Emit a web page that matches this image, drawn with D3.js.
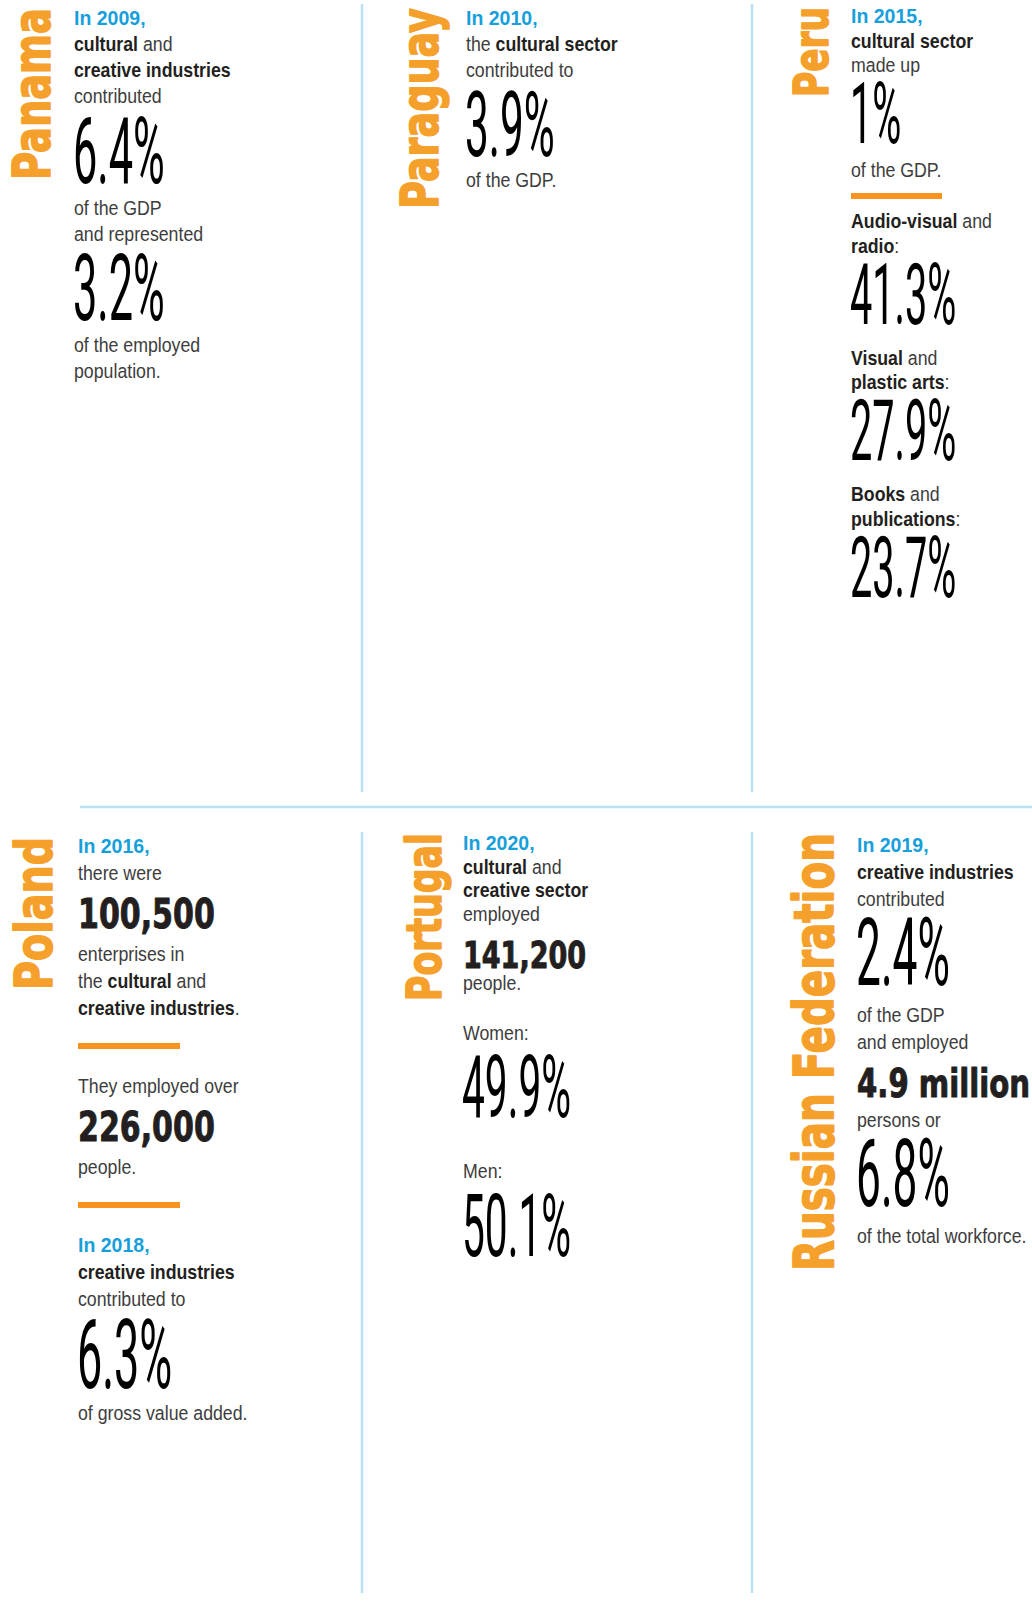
<!DOCTYPE html>
<html>
<head>
<meta charset="utf-8">
<script src="https://cdn.jsdelivr.net/npm/d3@7"></script>
<style>
html, body { margin: 0; padding: 0; background: #fff; }
svg { display: block; }
</style>
</head>
<body>
<script>
// Cultural and creative industries: six country fact panels

const countries = ["Panama", "Paraguay", "Peru", "Poland", "Portugal", "Russian Federation"];

// Panel content. k: y = year line, t = text line (**bold**), p = big percentage,
// n = heavy number, r = orange rule, g = extra gap
const panamaText = [
	{k: "y", t: "In 2009,"},
	{k: "t", t: "**cultural** and"},
	{k: "t", t: "**creative industries**"},
	{k: "t", t: "contributed"},
	{k: "p", t: "6.4%"},
	{k: "t", t: "of the GDP"},
	{k: "t", t: "and represented"},
	{k: "p", t: "3.2%"},
	{k: "t", t: "of the employed"},
	{k: "t", t: "population."}
];

const paraguayText = [
	{k: "y", t: "In 2010,"},
	{k: "t", t: "the **cultural sector**"},
	{k: "t", t: "contributed to"},
	{k: "p", t: "3.9%"},
	{k: "t", t: "of the GDP."}
];

const peruText = [
	{k: "y", t: "In 2015,"},
	{k: "t", t: "**cultural sector**"},
	{k: "t", t: "made up"},
	{k: "p", t: "1%"},
	{k: "t", t: "of the GDP."},
	{k: "r"},
	{k: "t", t: "**Audio-visual** and"},
	{k: "t", t: "**radio**:"},
	{k: "p", t: "41.3%"},
	{k: "g"},
	{k: "t", t: "**Visual** and"},
	{k: "t", t: "**plastic arts**:"},
	{k: "p", t: "27.9%"},
	{k: "g"},
	{k: "t", t: "**Books** and"},
	{k: "t", t: "**publications**:"},
	{k: "p", t: "23.7%"}
];

const polandText = [
	{k: "y", t: "In 2016,"},
	{k: "t", t: "there were"},
	{k: "n", t: "100,500"},
	{k: "t", t: "enterprises in"},
	{k: "t", t: "the **cultural** and"},
	{k: "t", t: "**creative industries**."},
	{k: "r"},
	{k: "t", t: "They employed over"},
	{k: "n", t: "226,000"},
	{k: "t", t: "people."},
	{k: "r"},
	{k: "y", t: "In 2018,"},
	{k: "t", t: "**creative industries**"},
	{k: "t", t: "contributed to"},
	{k: "p", t: "6.3%"},
	{k: "t", t: "of gross value added."}
];

const portugalText = [
	{k: "y", t: "In 2020,"},
	{k: "t", t: "**cultural** and"},
	{k: "t", t: "**creative sector**"},
	{k: "t", t: "employed"},
	{k: "n", t: "141,200"},
	{k: "t", t: "people."},
	{k: "g"},
	{k: "t", t: "Women:"},
	{k: "p", t: "49.9%"},
	{k: "g"},
	{k: "t", t: "Men:"},
	{k: "p", t: "50.1%"}
];

const russiaText = [
	{k: "y", t: "In 2019,"},
	{k: "t", t: "**creative industries**"},
	{k: "t", t: "contributed"},
	{k: "p", t: "2.4%"},
	{k: "t", t: "of the GDP"},
	{k: "t", t: "and employed"},
	{k: "n", t: "4.9 million"},
	{k: "t", t: "persons or"},
	{k: "p", t: "6.8%"},
	{k: "t", t: "of the total workforce."}
];

const panelText = [panamaText, paraguayText, peruText, polandText, portugalText, russiaText];

// -------------------------------

const W = 1032, H = 1613;

const blue = "#179fdb",
	orange = "#f6a02c",
	ruleOrange = "#f7931e",
	lineBlue = "#b8e1f5",
	ink = "#3d3d3d",
	boldInk = "#231f20";

const bodyFont = "'Liberation Sans', Arial, sans-serif",
	bigFont = "Roboto, 'Open Sans', sans-serif",
	heavyFont = "'DejaVu Sans', Verdana, sans-serif";

// Per panel layout: text x, label baseline / bottom / length / size, flow spacing
const layout = [
	{tx: 74, lx: 50, ly: 180, llen: 172, lsize: 52, start: 25, lh: 26, bigBefore: 14, bigCap: 65.5, bigAfter: 32},
	{tx: 466, lx: 438, ly: 209, llen: 201, lsize: 52, start: 25, lh: 26, bigBefore: 15, bigCap: 64, bigAfter: 31},
	{tx: 851, lx: 828, ly: 97, llen: 90, lsize: 48, start: 23, lh: 24.5, bigBefore: 11, bigCap: 60, bigAfter: 34,
		ruleBefore: 19, ruleAfter: 32, ruleW: 91, gap: 7},
	{tx: 78, lx: 52, ly: 990, llen: 153, lsize: 52, start: 853, lh: 27, numBefore: 18, numCap: 30, numAfter: 33,
		ruleBefore: 31, ruleAfter: 47, ruleW: 102, bigBefore: 14, bigCap: 68, bigAfter: 32},
	{tx: 463, lx: 441, ly: 1001, llen: 168, lsize: 48, start: 850, lh: 23.7, numBefore: 20, numCap: 27, numAfter: 22,
		gap: 26, bigBefore: 16, bigCap: 61.5, bigAfter: 35},
	{tx: 857, lx: 833, ly: 1271, llen: 438, lsize: 56, start: 852, lh: 27, bigBefore: 12, bigCap: 67, bigAfter: 37,
		numBefore: 20, numCap: 28, numAfter: 30, numScale: 0.76}
];

const bodySize = 19.5, bodyScale = 0.91,
	yearSize = 21, yearScale = 0.93,
	bigScale = 0.47, heavyScale = 0.73;

const svg = d3.select("body").append("svg")
	.attr("width", W)
	.attr("height", H);

// Divider lines
const dividers = svg.append("g")
	.attr("stroke", lineBlue)
	.attr("stroke-width", 2.5);

[362, 752].forEach(x => {
	dividers.append("line").attr("x1", x).attr("x2", x).attr("y1", 4).attr("y2", 792);
	dividers.append("line").attr("x1", x).attr("x2", x).attr("y1", 832).attr("y2", 1593);
});
dividers.append("line").attr("x1", 80).attr("x2", W).attr("y1", 807).attr("y2", 807);

// Write a line with **bold** parts as tspans
function richText(sel, str) {
	str.split("**").forEach((part, i) => {
		if (!part) return;
		sel.append("tspan")
			.attr("font-weight", i % 2 ? 700 : 400)
			.attr("fill", i % 2 ? boldInk : ink)
			.text(part);
	});
}

function drawPanel(name, items, L) {
	const g = svg.append("g").attr("class", "panel");

	// Rotated country name, squeezed to its length and stroked a little to look heavier
	const label = g.append("text")
		.attr("font-family", heavyFont)
		.attr("font-weight", 700)
		.attr("font-size", L.lsize)
		.attr("fill", orange)
		.attr("stroke", orange)
		.attr("stroke-width", 1.6)
		.attr("stroke-linejoin", "round")
		.text(name);
	const natural = label.node().getComputedTextLength();
	label.attr("transform", `translate(${L.lx},${L.ly}) rotate(-90) scale(${L.llen / natural},1)`);

	let y = 0, prev = null;

	items.forEach(d => {
		if (d.k === "g") {
			y += L.gap;
			return;
		}

		if (d.k === "y" || d.k === "t") {
			if (prev === null) y = L.start;
			else if (prev === "p") y += L.bigAfter;
			else if (prev === "n") y += L.numAfter;
			else if (prev === "r") y += L.ruleAfter;
			else y += L.lh;

			const t = g.append("text")
				.attr("transform", `translate(${L.tx},${y}) scale(${d.k === "y" ? yearScale : bodyScale},1)`)
				.attr("font-family", bodyFont);
			if (d.k === "y") {
				t.attr("font-size", yearSize).attr("font-weight", 700).attr("fill", blue).text(d.t);
			} else {
				t.attr("font-size", bodySize);
				richText(t, d.t);
			}
		} else if (d.k === "p") {
			y += L.bigBefore + L.bigCap;
			g.append("text")
				.attr("transform", `translate(${L.tx - 1},${y}) scale(${bigScale},1)`)
				.attr("font-family", bigFont)
				.attr("font-weight", 400)
				.attr("font-size", L.bigCap / 0.711)
				.attr("fill", "#000")
				.text(d.t);
		} else if (d.k === "n") {
			y += L.numBefore + L.numCap;
			g.append("text")
				.attr("transform", `translate(${L.tx},${y}) scale(${L.numScale || heavyScale},1)`)
				.attr("font-family", heavyFont)
				.attr("font-weight", 700)
				.attr("font-size", L.numCap / 0.729)
				.attr("fill", boldInk)
				.attr("stroke", boldInk)
				.attr("stroke-width", 1)
				.attr("stroke-linejoin", "round")
				.text(d.t);
		} else if (d.k === "r") {
			y += L.ruleBefore;
			g.append("rect")
				.attr("x", L.tx)
				.attr("y", y - 3)
				.attr("width", L.ruleW)
				.attr("height", 6)
				.attr("fill", ruleOrange);
		}
		prev = d.k;
	});
}

countries.forEach((c, i) => drawPanel(c, panelText[i], layout[i]));
</script>
</body>
</html>
